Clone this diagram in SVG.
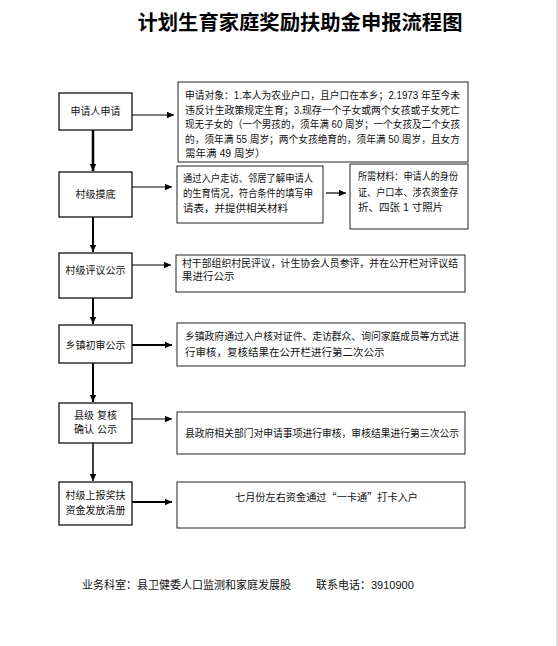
<svg xmlns="http://www.w3.org/2000/svg" width="558" height="646" viewBox="0 0 558 646">
<defs>
<style>
.t{font-family:"Liberation Sans","Noto Sans CJK SC",sans-serif;font-size:10.5px;fill:#111}
.n{font-family:"Liberation Sans","Noto Sans CJK SC",sans-serif;font-size:10px;fill:#111;text-anchor:middle}
.title{font-family:"Noto Sans CJK SC",sans-serif;font-size:20px;font-weight:bold;fill:#000}
.box{fill:#fff;stroke:#222;stroke-width:1}
.lbox{fill:#fff;stroke:#111;stroke-width:1.3}
.c{fill:none;stroke:#000}
</style>
<marker id="ah" markerUnits="userSpaceOnUse" markerWidth="8" markerHeight="8" viewBox="0 0 8 8" refX="7" refY="4" orient="auto">
<path d="M0,0.8 L7,4 L0,7.2 z" fill="#000"/>
</marker>
</defs>
<rect width="558" height="646" fill="#fff"/>
<rect x="556" y="0" width="2" height="646" fill="#e2e2e2"/>
<text class="title" x="300" y="30" text-anchor="middle" textLength="325" lengthAdjust="spacingAndGlyphs">计划生育家庭奖励扶助金申报流程图</text>

<g id="connectors">
<line class="c" x1="93" y1="130" x2="93" y2="171" stroke-width="2.5" marker-end="url(#ah)"/>
<line class="c" x1="93" y1="217" x2="93" y2="252" stroke-width="2" marker-end="url(#ah)"/>
<line class="c" x1="93" y1="298" x2="93" y2="324" stroke-width="2" marker-end="url(#ah)"/>
<line class="c" x1="93" y1="363" x2="93" y2="402" stroke-width="2" marker-end="url(#ah)"/>
<line class="c" x1="93" y1="443" x2="93" y2="481" stroke-width="1.5" marker-end="url(#ah)"/>
<line class="c" x1="132" y1="115" x2="174" y2="115" stroke-width="1.2" marker-end="url(#ah)"/>
<line class="c" x1="132" y1="187" x2="172" y2="187" stroke-width="1.2" marker-end="url(#ah)"/>
<line class="c" x1="326" y1="193" x2="346" y2="193" stroke-width="1.2" marker-end="url(#ah)"/>
<line class="c" x1="132" y1="265" x2="171" y2="265" stroke-width="1.2" marker-end="url(#ah)"/>
<line class="c" x1="132" y1="345" x2="172" y2="345" stroke-width="2" marker-end="url(#ah)"/>
<line class="c" x1="132" y1="419" x2="172" y2="419" stroke-width="1.2" marker-end="url(#ah)"/>
<line class="c" x1="132" y1="502" x2="172" y2="502" stroke-width="2" marker-end="url(#ah)"/>
</g>

<g id="n1"><rect class="lbox" x="59" y="93" width="73" height="37"/><text class="n" x="95.5" y="115">申请人申请</text></g>
<g id="n2"><rect class="lbox" x="59" y="172" width="73" height="45"/><text class="n" x="95.5" y="198">村级摸底</text></g>
<g id="n3"><rect class="lbox" x="59" y="253" width="73" height="45"/><text class="n" x="95.5" y="274">村级评议公示</text></g>
<g id="n4"><rect class="lbox" x="59" y="325" width="73" height="38"/><text class="n" x="95.5" y="349">乡镇初审公示</text></g>
<g id="n5"><rect class="lbox" x="59" y="403" width="73" height="40"/><text class="n" x="95.5" y="418.5">县级 复核</text><text class="n" x="95.5" y="433">确认 公示</text></g>
<g id="n6"><rect class="lbox" x="59" y="482" width="73" height="43"/><text class="n" x="95.5" y="498.5">村级上报奖扶</text><text class="n" x="95.5" y="513.5">资金发放清册</text></g>

<g id="d1"><rect class="box" x="178" y="82" width="290" height="80"/>
<text class="t" x="185" y="99" textLength="275" lengthAdjust="spacingAndGlyphs">申请对象：1.本人为农业户口，且户口在本乡；2.1973 年至今未</text>
<text class="t" x="185" y="113.5" textLength="275" lengthAdjust="spacingAndGlyphs">违反计生政策规定生育；3.现存一个子女或两个女孩或子女死亡</text>
<text class="t" x="185" y="128" textLength="275" lengthAdjust="spacingAndGlyphs">现无子女的（一个男孩的，须年满 60 周岁；一个女孩及二个女孩</text>
<text class="t" x="185" y="142.5" textLength="275" lengthAdjust="spacingAndGlyphs">的，须年满 55 周岁；两个女孩绝育的，须年满 50 周岁，且女方</text>
<text class="t" x="185" y="157">需年满 49 周岁）</text>
</g>
<g id="d2a"><rect class="box" x="177" y="166" width="146" height="57"/>
<text class="t" x="183" y="182" textLength="130" lengthAdjust="spacingAndGlyphs">通过入户走访、邻居了解申请人</text>
<text class="t" x="183" y="197" textLength="130" lengthAdjust="spacingAndGlyphs">的生育情况，符合条件的填写申</text>
<text class="t" x="183" y="212">请表，并提供相关材料</text>
</g>
<g id="d2b"><rect class="box" x="350" y="164" width="118" height="65"/>
<text class="t" x="358" y="180" textLength="100" lengthAdjust="spacingAndGlyphs">所需材料：申请人的身份</text>
<text class="t" x="358" y="196" textLength="100" lengthAdjust="spacingAndGlyphs">证、户口本、涉农资金存</text>
<text class="t" x="358" y="211">折、四张 1 寸照片</text>
</g>
<g id="d3"><rect class="box" x="176" y="255" width="289" height="37"/>
<text class="t" x="182" y="267" textLength="276" lengthAdjust="spacingAndGlyphs">村干部组织村民评议，计生协会人员参评，并在公开栏对评议结</text>
<text class="t" x="182" y="280">果进行公示</text>
</g>
<g id="d4"><rect class="box" x="177" y="323" width="288" height="43"/>
<text class="t" x="185" y="340" textLength="274" lengthAdjust="spacingAndGlyphs">乡镇政府通过入户核对证件、走访群众、询问家庭成员等方式进</text>
<text class="t" x="185" y="356">行审核，复核结果在公开栏进行第二次公示</text>
</g>
<g id="d5"><rect class="box" x="177" y="412" width="288" height="42"/>
<text class="t" x="185" y="437" textLength="274" lengthAdjust="spacingAndGlyphs">县政府相关部门对申请事项进行审核，审核结果进行第三次公示</text>
</g>
<g id="d6"><rect class="box" x="177" y="482" width="288" height="46"/>
<text class="t" x="235" y="501" style="font-family:'Noto Sans CJK SC',sans-serif" textLength="183" lengthAdjust="spacingAndGlyphs">七月份左右资金通过“一卡通”打卡入户</text>
</g>

<text class="t" x="82" y="589" style="font-size:11px">业务科室：县卫健委人口监测和家庭发展股</text>
<text class="t" x="316" y="589" style="font-size:11px">联系电话：3910900</text>
</svg>
